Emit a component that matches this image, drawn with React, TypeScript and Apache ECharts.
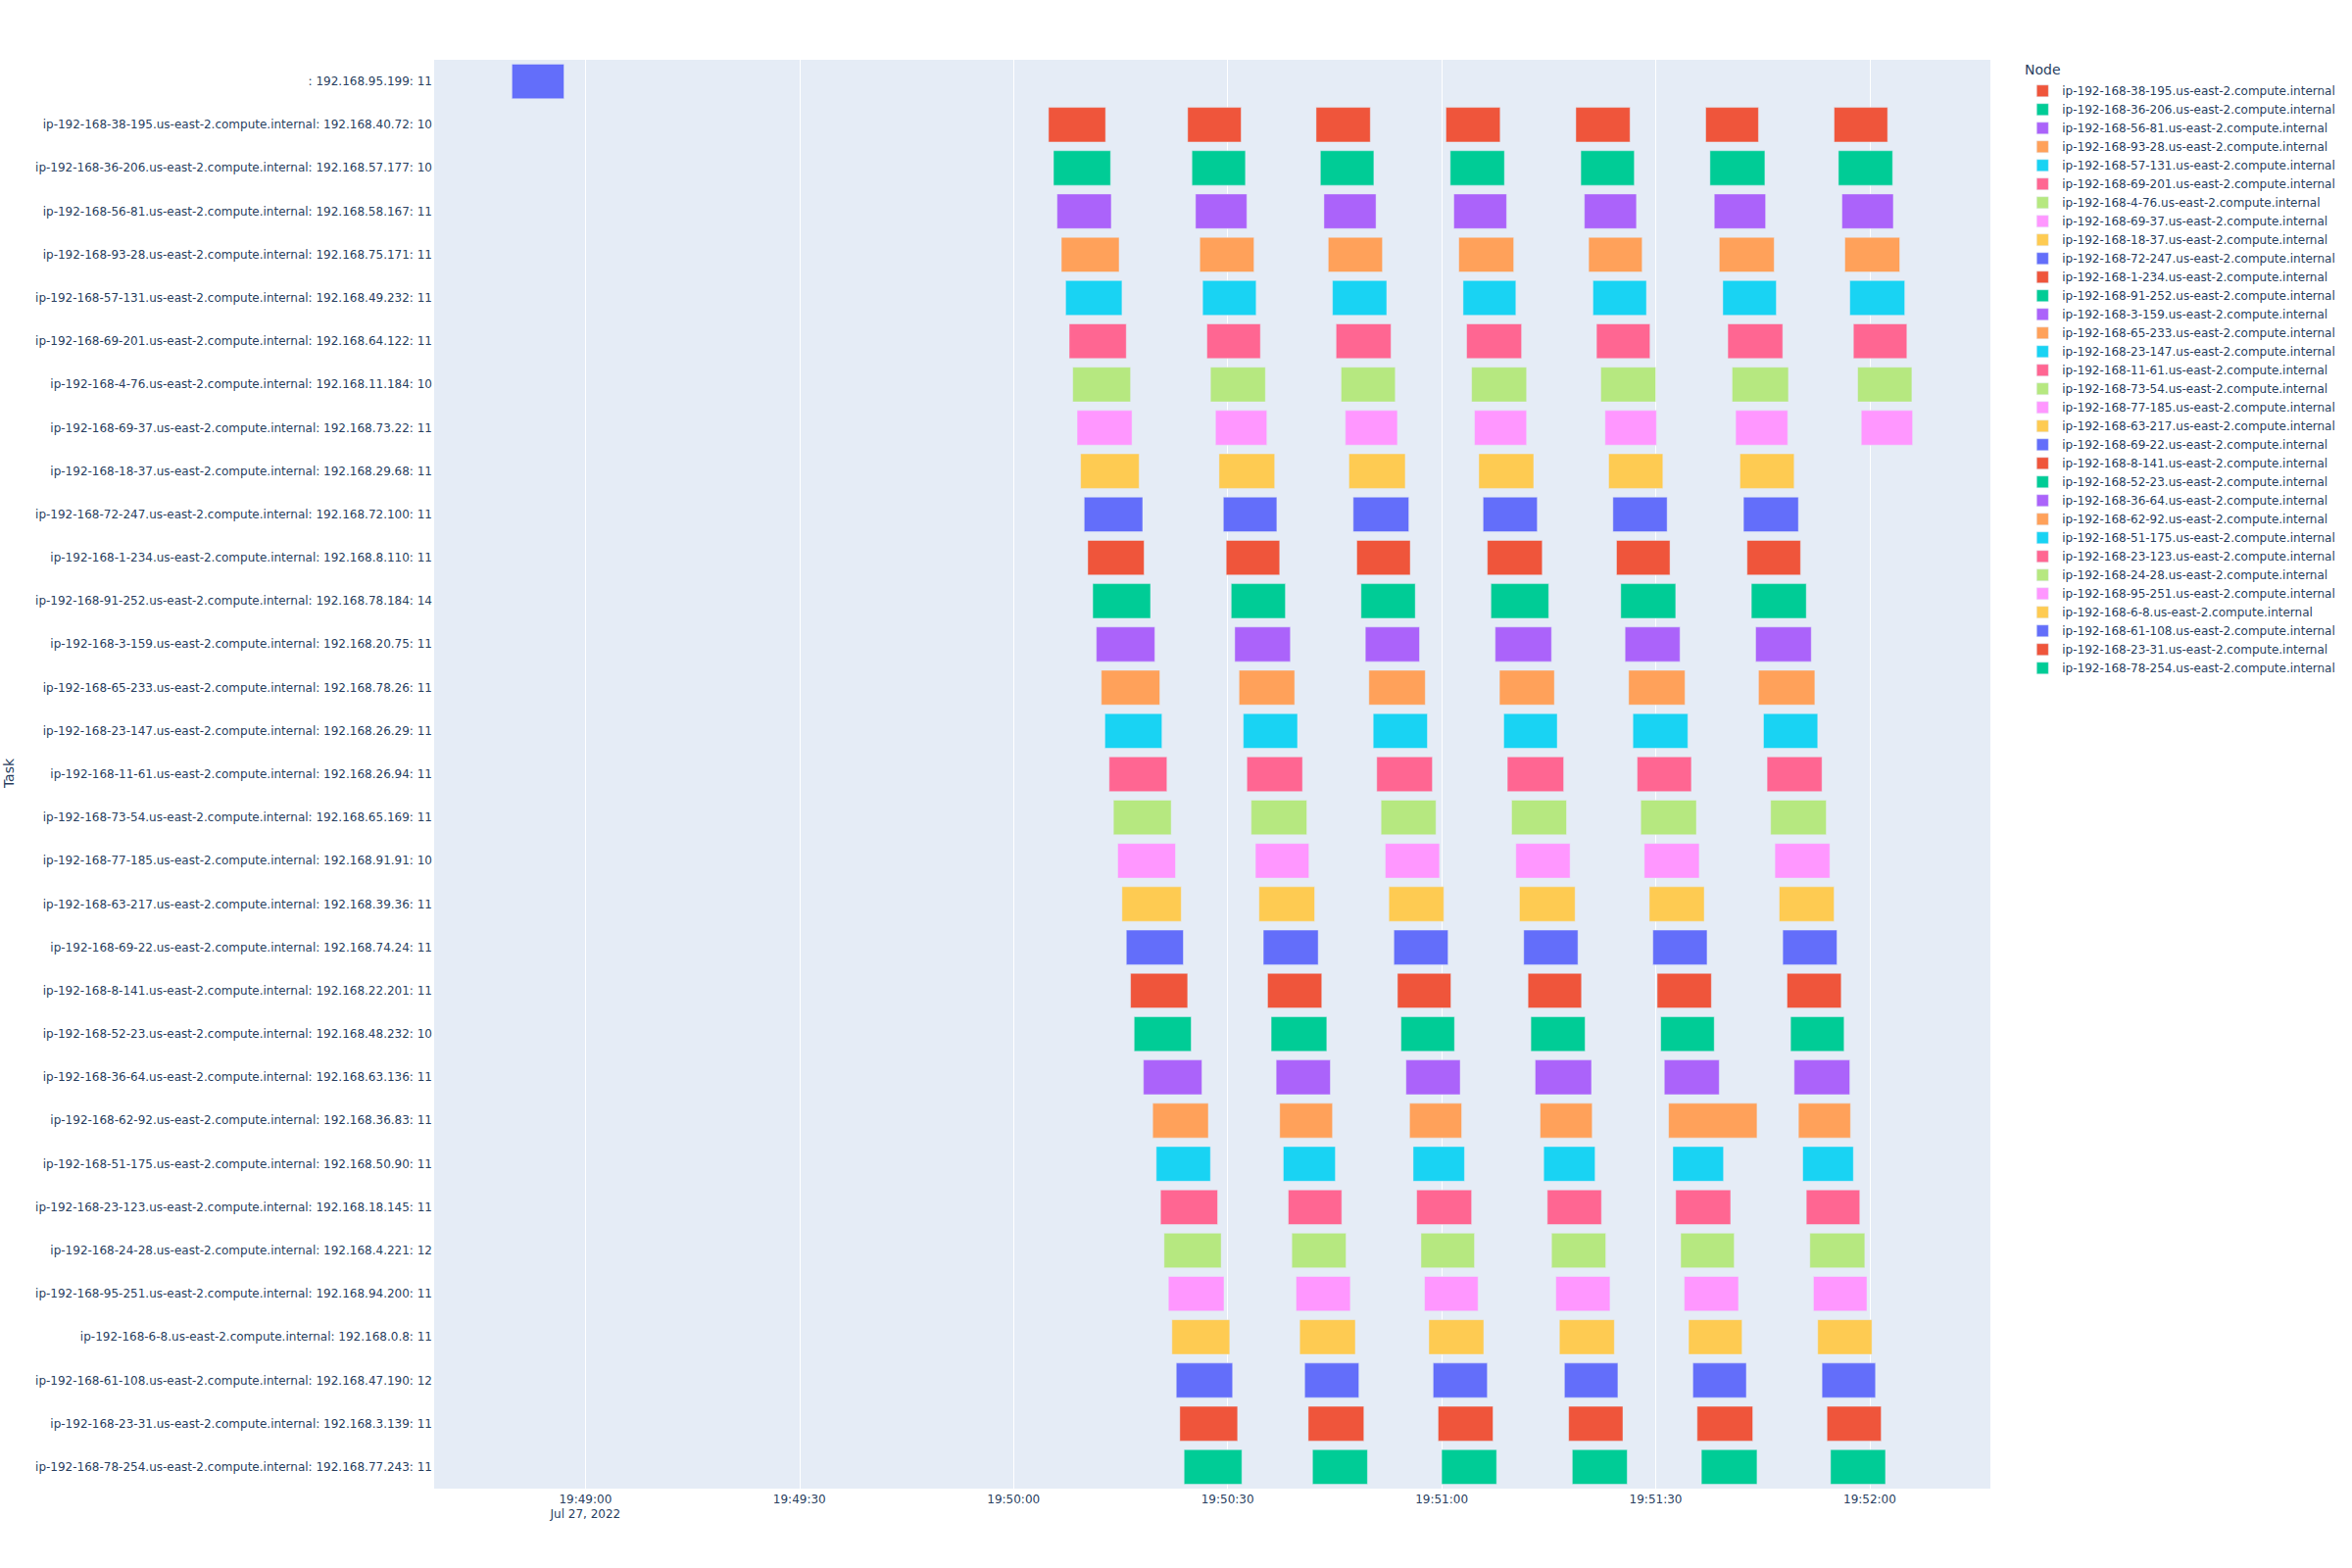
import React, { useEffect, useRef } from "react";
import * as echarts from "echarts";

// Times are seconds relative to 19:50:00 on Jul 27, 2022
const BASE_CLOCK_SECONDS = 19 * 3600 + 50 * 60;
const DATE_LABEL = "Jul 27, 2022";
const X_TICKS = [-60, -30, 0, 30, 60, 90, 120];
const X_MIN = -81.2;
const X_MAX = 136.9;

const PALETTE = ["#636efa", "#EF553B", "#00cc96", "#ab63fa", "#FFA15A", "#19d3f3", "#FF6692", "#B6E880", "#FF97FF", "#FECB52"];

const nodeNames = [
  "ip-192-168-38-195.us-east-2.compute.internal",
  "ip-192-168-36-206.us-east-2.compute.internal",
  "ip-192-168-56-81.us-east-2.compute.internal",
  "ip-192-168-93-28.us-east-2.compute.internal",
  "ip-192-168-57-131.us-east-2.compute.internal",
  "ip-192-168-69-201.us-east-2.compute.internal",
  "ip-192-168-4-76.us-east-2.compute.internal",
  "ip-192-168-69-37.us-east-2.compute.internal",
  "ip-192-168-18-37.us-east-2.compute.internal",
  "ip-192-168-72-247.us-east-2.compute.internal",
  "ip-192-168-1-234.us-east-2.compute.internal",
  "ip-192-168-91-252.us-east-2.compute.internal",
  "ip-192-168-3-159.us-east-2.compute.internal",
  "ip-192-168-65-233.us-east-2.compute.internal",
  "ip-192-168-23-147.us-east-2.compute.internal",
  "ip-192-168-11-61.us-east-2.compute.internal",
  "ip-192-168-73-54.us-east-2.compute.internal",
  "ip-192-168-77-185.us-east-2.compute.internal",
  "ip-192-168-63-217.us-east-2.compute.internal",
  "ip-192-168-69-22.us-east-2.compute.internal",
  "ip-192-168-8-141.us-east-2.compute.internal",
  "ip-192-168-52-23.us-east-2.compute.internal",
  "ip-192-168-36-64.us-east-2.compute.internal",
  "ip-192-168-62-92.us-east-2.compute.internal",
  "ip-192-168-51-175.us-east-2.compute.internal",
  "ip-192-168-23-123.us-east-2.compute.internal",
  "ip-192-168-24-28.us-east-2.compute.internal",
  "ip-192-168-95-251.us-east-2.compute.internal",
  "ip-192-168-6-8.us-east-2.compute.internal",
  "ip-192-168-61-108.us-east-2.compute.internal",
  "ip-192-168-23-31.us-east-2.compute.internal",
  "ip-192-168-78-254.us-east-2.compute.internal",
];

// node of each task row ("" for the first task)
const taskNodes = ["", ...nodeNames];

const taskSuffixes = [
  ": 192.168.95.199: 11",
  ": 192.168.40.72: 10",
  ": 192.168.57.177: 10",
  ": 192.168.58.167: 11",
  ": 192.168.75.171: 11",
  ": 192.168.49.232: 11",
  ": 192.168.64.122: 11",
  ": 192.168.11.184: 10",
  ": 192.168.73.22: 11",
  ": 192.168.29.68: 11",
  ": 192.168.72.100: 11",
  ": 192.168.8.110: 11",
  ": 192.168.78.184: 14",
  ": 192.168.20.75: 11",
  ": 192.168.78.26: 11",
  ": 192.168.26.29: 11",
  ": 192.168.26.94: 11",
  ": 192.168.65.169: 11",
  ": 192.168.91.91: 10",
  ": 192.168.39.36: 11",
  ": 192.168.74.24: 11",
  ": 192.168.22.201: 11",
  ": 192.168.48.232: 10",
  ": 192.168.63.136: 11",
  ": 192.168.36.83: 11",
  ": 192.168.50.90: 11",
  ": 192.168.18.145: 11",
  ": 192.168.4.221: 12",
  ": 192.168.94.200: 11",
  ": 192.168.0.8: 11",
  ": 192.168.47.190: 12",
  ": 192.168.3.139: 11",
  ": 192.168.77.243: 11",
];

// [start, end] in seconds relative to 19:50:00, one list per task row
const intervals: number[][][] = [
  [[-70.3, -63.0]],
  [[4.9, 12.9], [24.4, 31.9], [42.4, 50.0], [60.6, 68.2], [78.8, 86.4], [97.0, 104.4], [115.0, 122.5]],
  [[5.6, 13.6], [25.0, 32.5], [43.0, 50.5], [61.2, 68.8], [79.5, 87.0], [97.6, 105.3], [115.6, 123.2]],
  [[6.1, 13.7], [25.5, 32.7], [43.5, 50.8], [61.7, 69.1], [80.0, 87.3], [98.2, 105.4], [116.1, 123.3]],
  [[6.7, 14.8], [26.1, 33.7], [44.1, 51.7], [62.4, 70.1], [80.6, 88.1], [98.9, 106.6], [116.5, 124.2]],
  [[7.3, 15.2], [26.5, 34.0], [44.7, 52.3], [63.0, 70.4], [81.2, 88.7], [99.4, 106.9], [117.2, 124.9]],
  [[7.8, 15.8], [27.1, 34.6], [45.2, 52.9], [63.5, 71.2], [81.7, 89.2], [100.1, 107.8], [117.7, 125.2]],
  [[8.3, 16.4], [27.6, 35.3], [45.9, 53.5], [64.2, 71.9], [82.3, 90.0], [100.7, 108.6], [118.3, 125.9]],
  [[8.9, 16.6], [28.3, 35.5], [46.5, 53.8], [64.6, 71.9], [82.9, 90.1], [101.2, 108.5], [118.8, 126.0]],
  [[9.4, 17.6], [28.8, 36.6], [47.0, 54.9], [65.2, 72.9], [83.4, 91.0], [101.8, 109.4]],
  [[9.9, 18.1], [29.4, 36.9], [47.6, 55.4], [65.8, 73.4], [84.0, 91.6], [102.3, 110.0]],
  [[10.4, 18.3], [29.8, 37.3], [48.1, 55.6], [66.4, 74.1], [84.5, 92.0], [102.8, 110.3]],
  [[11.1, 19.2], [30.5, 38.1], [48.7, 56.3], [66.9, 75.0], [85.1, 92.8], [103.4, 111.1]],
  [[11.6, 19.8], [31.0, 38.8], [49.3, 56.9], [67.5, 75.4], [85.7, 93.4], [104.0, 111.8]],
  [[12.3, 20.5], [31.6, 39.4], [49.8, 57.7], [68.1, 75.8], [86.2, 94.1], [104.4, 112.3]],
  [[12.8, 20.8], [32.2, 39.8], [50.4, 58.0], [68.7, 76.2], [86.8, 94.5], [105.1, 112.7]],
  [[13.4, 21.5], [32.7, 40.5], [50.9, 58.7], [69.2, 77.1], [87.4, 95.0], [105.6, 113.3]],
  [[14.0, 22.1], [33.3, 41.1], [51.5, 59.2], [69.8, 77.5], [87.9, 95.7], [106.1, 113.9]],
  [[14.6, 22.7], [33.9, 41.4], [52.1, 59.7], [70.4, 78.0], [88.4, 96.1], [106.7, 114.4]],
  [[15.2, 23.5], [34.4, 42.2], [52.6, 60.3], [70.9, 78.7], [89.1, 96.8], [107.3, 115.0]],
  [[15.8, 23.8], [35.0, 42.7], [53.3, 60.9], [71.5, 79.1], [89.6, 97.2], [107.8, 115.4]],
  [[16.4, 24.4], [35.6, 43.2], [53.8, 61.3], [72.1, 79.6], [90.2, 97.8], [108.4, 116.0]],
  [[16.9, 24.9], [36.1, 43.9], [54.3, 61.8], [72.5, 80.1], [90.7, 98.2], [108.9, 116.4]],
  [[18.2, 26.4], [36.8, 44.4], [55.0, 62.6], [73.1, 81.0], [91.2, 98.9], [109.4, 117.2]],
  [[19.5, 27.3], [37.3, 44.7], [55.5, 62.8], [73.8, 81.1], [91.8, 104.2], [110.0, 117.3]],
  [[20.0, 27.6], [37.8, 45.1], [56.0, 63.2], [74.3, 81.5], [92.4, 99.5], [110.6, 117.7]],
  [[20.6, 28.6], [38.5, 46.0], [56.5, 64.2], [74.8, 82.4], [92.8, 100.5], [111.1, 118.6]],
  [[21.1, 29.1], [39.0, 46.6], [57.1, 64.6], [75.4, 83.0], [93.5, 101.0], [111.6, 119.3]],
  [[21.7, 29.5], [39.6, 47.2], [57.6, 65.1], [76.0, 83.6], [94.0, 101.6], [112.1, 119.6]],
  [[22.2, 30.3], [40.1, 47.9], [58.2, 65.9], [76.5, 84.2], [94.6, 102.1], [112.7, 120.3]],
  [[22.8, 30.7], [40.8, 48.4], [58.8, 66.4], [77.2, 84.7], [95.2, 102.7], [113.3, 120.8]],
  [[23.3, 31.4], [41.3, 49.1], [59.5, 67.2], [77.8, 85.4], [95.8, 103.6], [114.0, 121.6]],
  [[23.9, 32.0], [41.9, 49.6], [60.0, 67.7], [78.3, 86.0], [96.4, 104.2], [114.5, 122.2]],
];

const FONT = "DejaVu Sans";
const TEXT_COLOR = "#2a3f5f";

const pad = (n: number) => (n < 10 ? "0" + n : "" + n);
const formatTick = (v: number) => {
  const total = Math.round(BASE_CLOCK_SECONDS + v);
  const h = Math.floor(total / 3600);
  const m = Math.floor((total % 3600) / 60);
  const s = total % 60;
  const str = `${pad(h)}:${pad(m)}:${pad(s)}`;
  return Math.abs(v - X_TICKS[0]) < 1e-6 ? str + "\n" + DATE_LABEL : str;
};

export default function App() {
  const ref = useRef<HTMLDivElement>(null);

  useEffect(() => {
    if (!ref.current) return;
    const chart = echarts.init(ref.current, undefined, { renderer: "svg" });

    const taskLabels = taskNodes.map((n, i) => n + taskSuffixes[i]);

    const series = intervals.map((rows, r) => {
      const color = PALETTE[r % PALETTE.length];
      return {
        type: "custom",
        name: taskNodes[r],
        itemStyle: { color },
        encode: { x: [0, 1], y: 2 },
        data: rows.map(([s, e]) => [s, e, r]),
        renderItem: (params: any, api: any) => {
          const y = api.value(2);
          const a = api.coord([api.value(0), y]);
          const b = api.coord([api.value(1), y]);
          const h = api.size([0, 1])[1] * 0.8;
          return {
            type: "rect",
            shape: { x: a[0], y: a[1] - h / 2, width: b[0] - a[0], height: h },
            style: { fill: color, stroke: "#E5ECF6", lineWidth: 0.5 },
          };
        },
      };
    });

    chart.setOption({
      animation: false,
      backgroundColor: "#ffffff",
      textStyle: { fontFamily: FONT },
      grid: { left: 443, right: 369, top: 61, bottom: 81, containLabel: false, show: true, backgroundColor: "#E5ECF6", borderWidth: 0 },
      xAxis: {
        type: "value",
        min: X_MIN,
        max: X_MAX,
        axisLine: { show: false },
        axisTick: { show: false, customValues: X_TICKS },
        splitLine: { show: true, lineStyle: { color: "#ffffff", width: 1 } },
        axisLabel: {
          customValues: X_TICKS,
          formatter: formatTick,
          color: TEXT_COLOR,
          fontFamily: FONT,
          fontSize: 12,
          lineHeight: 15,
          margin: 3,
        },
      },
      yAxis: {
        type: "category",
        data: taskLabels,
        inverse: true,
        boundaryGap: true,
        axisLine: { show: false },
        axisTick: { show: false },
        splitLine: { show: false },
        axisLabel: { color: TEXT_COLOR, fontFamily: FONT, fontSize: 12, margin: 2, interval: 0 },
      },
      legend: {
        data: nodeNames,
        orient: "vertical",
        left: 2078,
        top: 86.5,
        padding: 0,
        itemWidth: 12,
        itemHeight: 12,
        itemGap: 6.5,
        icon: "rect",
        selectedMode: false,
        itemStyle: { borderColor: "#E5ECF6", borderWidth: 0.5 },
        textStyle: { color: TEXT_COLOR, fontFamily: FONT, fontSize: 12, lineHeight: 12, padding: [0, 0, 0, 9] },
      },
      graphic: [
        {
          type: "text",
          left: 2066,
          top: 64,
          style: { text: "Node", fill: TEXT_COLOR, font: `14px "${FONT}"` },
        },
        {
          type: "text",
          x: 9,
          y: 789,
          rotation: Math.PI / 2,
          style: { text: "Task", fill: TEXT_COLOR, font: `14px "${FONT}"`, align: "center", verticalAlign: "middle" },
        },
      ],
      series,
    });

    return () => chart.dispose();
  }, []);

  return <div ref={ref} style={{ position: "fixed", left: 0, top: 0, width: 2400, height: 1600 }} />;
}
